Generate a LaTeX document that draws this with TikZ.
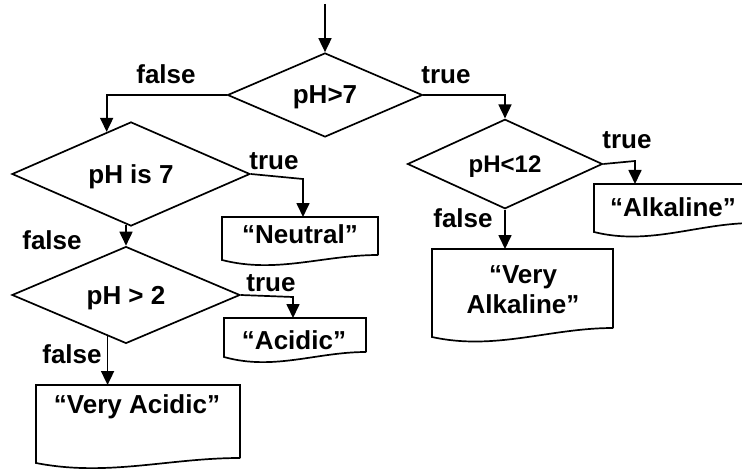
\documentclass[tikz,border=0pt]{standalone}
\usepackage{fontspec}
\setmainfont{Liberation Sans}
\usetikzlibrary{arrows.meta,shapes.geometric,calc}
\newcommand\docoutline[2]{%
  \draw[ln] (#1.south east) -- (#1.north east) -- (#1.north west) -- ([yshift=-#2pt]#1.south west)
    .. controls ($(#1.south west)!0.35!(#1.south east)+(0pt,-#2pt-14pt)$) and ($(#1.south west)!0.65!(#1.south east)$) .. (#1.south east);}
\begin{document}
\begin{tikzpicture}[x=1pt,y=-1pt,
  ln/.style={line width=1.7pt, line join=miter},
  arr/.style={ln, -{Triangle[length=14pt,width=13pt]}},
  txt/.style={font=\fontsize{26}{30}\selectfont\bfseries, inner sep=0pt, outer sep=0pt},
  dec/.style={shape=diamond, draw, ln, inner sep=0pt, text depth=0pt, font=\fontsize{26}{30}\selectfont\bfseries},
  box/.style={rectangle, draw=none, inner sep=0pt, outer sep=0pt}]
\useasboundingbox (0,0) rectangle (742,476);
\clip (0,0) rectangle (742,476);
% decisions
\node[dec, minimum width=195pt, minimum height=84pt] (d1) at (325,95) {pH>7};
\node[dec, minimum width=238pt, minimum height=88pt] (d2) at (131,174) {pH is 7};
\node[dec, minimum width=228pt, minimum height=95pt] (d3) at (126,295) {pH > 2};
\node[dec, minimum width=195pt, minimum height=73pt, font=\fontsize{24}{28}\selectfont\bfseries] (d4) at (505,164) {pH<12};
% document boxes
\node[box, minimum width=156pt, minimum height=38pt] (bN) at (300,236) {};
\node[box, minimum width=142pt, minimum height=34pt] (bA) at (295,335) {};
\node[box, minimum width=160pt, minimum height=39pt] (bAl) at (674,203.5) {};
\node[box, minimum width=181pt, minimum height=79pt] (bVAl) at (522.5,288.5) {};
\node[box, minimum width=204pt, minimum height=73pt] (bVA) at (138,421.5) {};
\docoutline{bN}{5}
\docoutline{bA}{5}
\docoutline{bAl}{9}
\docoutline{bVAl}{9}
\docoutline{bVA}{5}
\node[txt] (tN) at (300,234) {“Neutral”};
\node[txt] (tA) at (294,340) {“Acidic”};
\node[txt] (tAl) at (673,207) {“Alkaline”};
\node[txt, align=center] (tVAl) at (523,290) {“Very\\Alkaline”};
\node[txt] (tVA) at (137,407) {“Very Acidic”};
% labels
\node[txt] (l1) at (166,74) {false};
\node[txt] (l2) at (446,75) {true};
\node[txt] (l3) at (274,161) {true};
\node[txt] (l4) at (52,240) {false};
\node[txt] (l5) at (271,283) {true};
\node[txt] (l6) at (72,354) {false};
\node[txt] (l7) at (627,140) {true};
\node[txt] (l8) at (463,218) {false};
% connectors
\coordinate (start) at (325,4);
\draw[arr] (start) -- (d1.north);
\draw[arr] (d1.west) -| (d2.120);
\coordinate (k2) at (303,179);
\draw[arr] (d2.east) -- (k2) -- (k2 |- bN.north);
\draw[arr] ([yshift=2pt]d3.north |- d2.south) -- (d3.north);
\coordinate (k3) at (293,297);
\draw[arr] (d3.east) -- (k3) -- (k3 |- bA.north);
\draw[arr] (d3.246) -- (d3.246 |- bVA.north);
\draw[arr] (d1.east) -| (d4.north);
\coordinate (k4) at (635,161);
\draw[arr] (d4.east) -- (k4) -- (k4 |- bAl.north);
\draw[arr] (d4.south) -- (d4.south |- bVAl.north);
\end{tikzpicture}
\end{document}
